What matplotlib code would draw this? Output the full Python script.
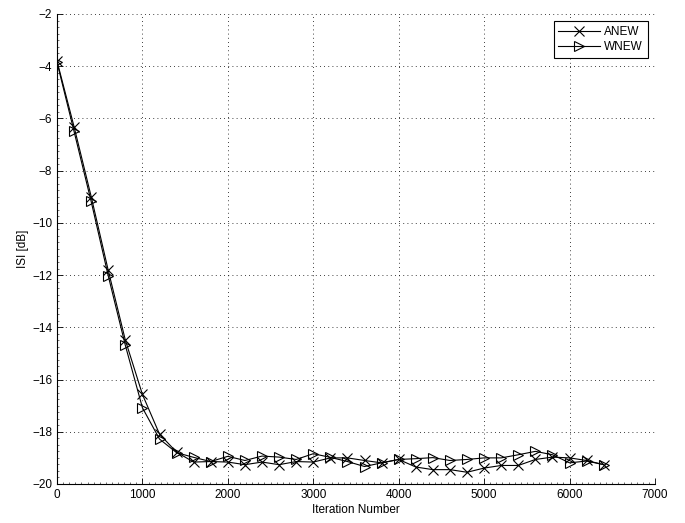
import matplotlib
matplotlib.use("Agg")
import matplotlib.pyplot as plt
from matplotlib.ticker import MultipleLocator

plt.rcParams['font.family'] = ['Liberation Sans', 'DejaVu Sans']
plt.rcParams['font.size'] = 8.5

# Data (ISI in dB vs iteration)
iterations = list(range(0, 6401, 200))
anew = [-3.80, -6.32, -8.99, -11.82, -14.49, -16.57, -18.09, -18.78, -19.16, -19.14,
        -19.16, -19.26, -19.16, -19.26, -19.14, -19.16, -19.00, -19.00, -19.10, -19.19,
        -19.06, -19.35, -19.45, -19.45, -19.55, -19.39, -19.29, -19.29, -19.06, -18.97,
        -19.00, -19.10, -19.26]
wnew = [-3.85, -6.50, -9.18, -12.03, -14.69, -17.08, -18.28, -18.80, -18.98, -19.14,
        -18.94, -19.10, -18.93, -18.97, -19.06, -18.84, -18.98, -19.14, -19.33, -19.19,
        -19.06, -19.03, -18.99, -19.10, -19.06, -19.00, -19.00, -18.88, -18.75, -18.88,
        -19.19, -19.12, -19.26]

fig = plt.figure(figsize=(6.85, 5.23), dpi=100)
ax = fig.add_axes([57 / 685, 1 - 484 / 523, 598 / 685, 470 / 523])

ax.plot(iterations, anew, color='black', lw=0.8, marker='x', ms=7, mew=0.8, label='ANEW')
ax.plot(iterations, wnew, color='black', lw=0.8, marker='>', ms=7, mew=0.8,
        mfc='none', label='WNEW')

ax.set_xlim(0, 7000)
ax.set_ylim(-20, -2)
ax.xaxis.set_major_locator(MultipleLocator(1000))
ax.yaxis.set_major_locator(MultipleLocator(2))
ax.xaxis.set_minor_locator(MultipleLocator(1000 / 14))
ax.yaxis.set_minor_locator(MultipleLocator(0.25))
ax.tick_params(which='major', direction='in', length=4, width=0.6, labelsize=8.5)
ax.tick_params(which='minor', direction='in', length=1.5, width=0.4)

# only left/bottom axis lines, the box edges are just dotted grid
ax.spines['top'].set_visible(False)
ax.spines['right'].set_visible(False)
for s in ('left', 'bottom'):
    ax.spines[s].set_linewidth(0.8)
ax.grid(True, which='major', linestyle=(0, (1, 4)), color='black', lw=0.6)

ax.set_xlabel('Iteration Number', labelpad=2)
ax.set_ylabel('ISI [dB]', labelpad=2)

leg = ax.legend(loc='upper right', handlelength=3.5, fancybox=False, framealpha=1,
                edgecolor='black', borderaxespad=0.6, labelspacing=0.3,
                handletextpad=0.4, borderpad=0.4)
leg.get_frame().set_linewidth(0.8)

fig.savefig('out.png', dpi=100)
